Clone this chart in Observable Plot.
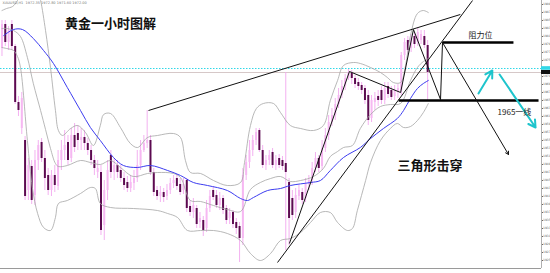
<!DOCTYPE html>
<html><head><meta charset="utf-8">
<script src="https://cdn.jsdelivr.net/npm/d3@7"></script>
<script src="https://cdn.jsdelivr.net/npm/@observablehq/plot@0.6"></script>
<style>html,body{margin:0;padding:0;background:#fff;overflow:hidden}</style>
</head><body><div id="chart"></div>
<script>
// ---- candles (hourly XAUUSD, price units) ----
const candleOpen = [1978,1984,1979.5,1984,1978.5,1964.5,1958,1955,1942.5,1948.5,1941.25,1950,1954.5,1950.5,1946.25,1942.5,1946.25,1943.5,1950,1952.5,
1954.5,1950.5,1956.25,1956.75,1955,1955.75,1954.25,1952.5,1950,1947,1947,1933.75,1942.5,1951.25,1947,1948.75,1947.5,1945.5,1944.5,1943,
1944.25,1945.5,1948.75,1952.5,1954.25,1955,1947,1942.5,1941,1942,1941,1942.5,1944.25,1945.5,1944,1942.5,1945,1938.5,1937,1938,
1934.5,1935,1933,1938,1942.5,1941.25,1938.75,1940.5,1938,1935.5,1937,1934.5,1933.5,1930.5,1946.25,1949.5,1952.5,1955,1957.5,1952.5,
1948.75,1950,1952,1948.75,1950.5,1950,1949.25,1944.5,1940.5,1937,1941,1942,1940.5,1944,1945,1948,1950.5,1948.5,1953,1956.25,
1959.5,1961.25,1964,1966.25,1968.5,1970.5,1971.75,1970.5,1969.5,1968.75,1968,1966.25,1960.5,1964.5,1966,1967.5,1965,1968.5,1967.5,1966,
1967,1967.5,1976.25,1980,1978,1981,1979.5,1980,1981,1978.75];
const candleClose = [1984,1979.5,1982.5,1978.5,1964.5,1962.5,1965.5,1941,1948.75,1940,1950,1953.75,1950.5,1945.5,1942.5,1946.25,1943.75,1950,1952.5,1953.75,
1950,1956.25,1953.25,1955,1955.75,1954.25,1952.5,1950,1948,1948,1932.5,1942.5,1947.5,1947,1948.75,1947,1945.5,1943.75,1943,1944.5,
1945.5,1948.75,1952.5,1954.25,1955,1947,1942,1941,1942,1940.75,1942.5,1944.25,1945,1943.5,1942,1944,1938,1937,1938.75,1934,
1935.5,1932.5,1938,1941,1940.75,1938.75,1940.5,1937.5,1935,1937,1934,1933,1930.5,1946.25,1949.5,1952.5,1955,1957,1952.5,1948.75,
1950,1951.25,1948.75,1950,1948.75,1948.5,1947,1935.5,1936.25,1941.25,1942.5,1940,1944,1945,1948,1950.5,1948,1953,1956.25,1959.5,
1961.25,1964,1966.25,1968.5,1970.5,1972,1970.5,1969,1968.5,1967.5,1965,1960,1965,1965.5,1965,1965,1968,1966.5,1965.75,1967.5,
1968,1976.25,1979.5,1977.5,1980.5,1979,1982,1981.5,1978.75,1972];
const candleHigh = [1985,1985,1983.5,1985,1979,1966,1967,1956,1950.5,1950,1952.5,1955,1955.5,1952.5,1948,1947.5,1948.75,1952.5,1955,1957.5,
1956.25,1958,1959.25,1958.75,1958,1957.5,1955.5,1953.75,1951.25,1950,1948.75,1945,1950,1952.5,1950.5,1950,1948.75,1947,1946,1946.25,
1947.5,1952.5,1955,1956.25,1962.5,1956.25,1948,1943.5,1943.5,1943,1944,1945.5,1946.25,1946.5,1945.5,1945.5,1945.5,1940,1940.5,1938.75,
1937,1936,1940,1942.5,1943.5,1942.5,1942,1941.25,1938.75,1938,1937.5,1935.5,1934.5,1948,1951.25,1955,1956.25,1958,1958,1953.75,
1951.25,1952.5,1953,1951.25,1951.5,1951,1972,1945.5,1942.5,1943,1943.75,1943,1945.5,1946.25,1949.5,1952,1951.25,1955,1958,1961.25,
1963,1965.5,1968,1970,1971.5,1972.75,1972.5,1971.25,1970.5,1969.5,1968.75,1967.5,1966.25,1967,1967.5,1968.5,1969.5,1969.5,1968.5,1968.75,
1969,1977,1980.5,1981,1981.5,1982,1983,1982.5,1982.5,1980];
const candleLow = [1976,1978.5,1977.5,1977.5,1964,1961,1956.5,1940,1940,1939,1938.75,1947.5,1949.5,1942.5,1941.25,1941,1942,1942.5,1947.5,1950,
1948.75,1949.5,1952,1952.5,1952.5,1952.5,1951.25,1948.75,1946.25,1945.5,1931.25,1930,1940,1945.5,1945,1945.5,1944.5,1942.5,1942,1942,
1942.5,1944.5,1947.5,1952,1953,1946.25,1941,1940,1939.5,1939.5,1940,1941.5,1943,1942.5,1941.25,1941.5,1937,1936,1935.5,1933,
1933,1931,1932,1937,1940,1938,1937.5,1936.5,1934,1934,1933,1931.5,1924.5,1928.75,1945,1948,1951,1953.75,1952,1948,
1947.5,1948.75,1948,1947.5,1948,1947.5,1927.5,1928.75,1935,1935.5,1940,1939,1939.5,1942.5,1943.75,1947,1947,1947.5,1952,1955,
1958.5,1960,1963,1965.5,1967.5,1970,1969,1968,1967.5,1966.5,1964,1958.75,1959.5,1962.5,1963.5,1964,1964,1965.5,1965,1965,
1965.5,1966.25,1975,1976.5,1977,1978,1978.5,1979,1978,1965];

// ---- Bollinger bands ----
const upperX = [0,1.4,3.2,4.7,6.2,8.0,9.5,10.8,11.7,13.2,14.7,16.2,17.1,18.3,20.8,22.9,25.3,27.7,29.8,30.8,32.9,35.9,38.9,41.1,44.1,47.1,52.0,54.1,55.6,57.1,60.2,64.1,68.3,72.3,73.5,75.3,77.1,79.2,82.3,84.4,87.4,90.5,94.4,97.4,99.5,101.7,103.5,106.5,108.6,111.7,114.7,116.8,118.6,120.8,122.3,123.8,125.9,127.7,129.2];
const upperY = [1987.5,1988,1988.5,1990,1993.75,1996.25,1995,1992.5,1990,1982.5,1973.25,1962.5,1957.5,1956.25,1958,1958.75,1957,1953.75,1958.75,1961.5,1961.75,1958.25,1954.25,1953.25,1955.75,1956.25,1956.75,1955.75,1950,1947,1946.75,1945,1943.75,1944.5,1949.5,1958.75,1963,1964.25,1964.25,1962,1958.75,1958,1957.5,1958.75,1965,1970,1973.75,1974.5,1974.25,1973.25,1972,1970.75,1969.5,1969.5,1973.75,1981.25,1986.75,1987.5,1987];
const middleX = [0,1.4,3.5,5.6,7.7,9.5,11.7,13.2,14.7,16.2,17.1,19.8,23.8,26.8,29.8,32.9,35.9,39.8,44.1,47.1,52.0,54.1,57.1,60.2,64.1,68.3,72.3,75.3,78.3,81.4,84.4,87.4,90.5,94.4,97.4,99.5,101.7,103.5,106.2,108.6,111.7,114.7,117.7,120.8,123.8,125.9,127.7,129.2];
const middleY = [1983,1983,1982.5,1981,1975.75,1969.25,1962.5,1957.75,1953,1949.25,1948.5,1948.75,1950,1949.5,1949,1950,1948.25,1946,1946.75,1947,1946.75,1945.75,1940,1939.75,1938.75,1937.75,1937.25,1942.75,1944.5,1945.5,1946,1944.75,1945,1946,1948,1951,1952.25,1953.25,1953.75,1958,1961.5,1963.5,1964,1964.25,1970,1973.25,1974.75,1975.5];
const lowerX = [0,1.4,3.5,4.7,5.6,7.7,9.2,10.8,12.6,14.7,16.2,17.1,19.8,23.8,26.8,28.3,29.8,32.9,39.8,47.1,50.2,53.2,56.2,60.2,64.1,68.3,72.3,75.3,78.3,81.4,84.4,87.4,90.5,93.5,96.5,99.5,101.7,104.7,106.2,107.7,110.2,111.7,114.7,117.7,119.8,121.7,123.8,125.9,127.7,129.2];
const lowerY = [1978.25,1978,1977.5,1976,1973.25,1955,1943.25,1936.75,1933.25,1932.5,1935.75,1939.25,1940,1941.75,1943.25,1943,1939.25,1938.25,1938,1937.5,1936.75,1935.75,1932.5,1932.5,1932.5,1931.75,1930,1926.75,1925,1926.75,1930,1930.5,1932,1934.5,1937,1937,1934.5,1932.5,1933,1937.5,1945,1949.5,1955,1958,1959.25,1958.25,1958.5,1960,1962,1964.25];
// ---- moving average (blue) ----
const maX = [0.5,3.5,6.2,9.5,12.6,15.6,19.8,23.8,26.8,29.8,33.8,36.8,41,45,50.2,54.1,58,62.3,68.3,72.3,74.4,76.2,80.5,84.4,87.4,93.5,96.5,99.5,103.5,108.6,111.7,115.6,119.8,121.7,123.8,125.9,127.7,129.2];
const maY = [1981.25,1982.75,1982.75,1980.5,1977.5,1974.25,1968.25,1962.5,1958.25,1955,1950.75,1948.75,1948.25,1948.75,1947.5,1946.25,1944.5,1943.75,1942.5,1940.5,1940,1940.75,1942.5,1943,1943.75,1944.5,1945,1947.5,1950.75,1953.25,1955.5,1958,1960.5,1962.5,1965.5,1968,1969.25,1970];

// ---- levels & annotations ----
const bidPrice = 1972, askPrice = 1973;
const yTicks = d3.range(1925, 1990, 2);
const segX1 = [44.4, 83.5, 87.1, 105.3, 120.8, 124.7, 132.9];
const segY1 = [1962.5, 1924.5, 1929.25, 1972.25, 1967, 1982.75, 1965.25];
const segX2 = [138.9, 142.6, 105.3, 120.8, 124.7, 132.9, 133.5];
const segY2 = [1986.5, 1990, 1972.25, 1967, 1982.75, 1965.25, 1979.5];
const levelX1 = [133.5, 120.2], levelX2 = [155.0, 162.6], levelY = [1979.5, 1965];
const blackArrow = {x1: 133.5, y1: 1979.5, x2: 153.5, y2: 1951.5};
const cyanX1 = [144.4, 150.8], cyanY1 = [1966.75, 1971.5], cyanX2 = [148.6, 161.7], cyanY2 = [1972.5, 1958.25];
const labels = ["阻力位", "1965一线"], labelX = [145, 155.3], labelY = [1981.25, 1962.1];
const bigLabels = ["黄金一小时图解", "三角形击穿"], bigX = [32.9, 129.7], bigY = [1984.25, 1948.75];
const header = "XAUUSD,H1  1972.35 1972.80 1971.60 1972.00";

const candles = candleOpen.map((o, i) => ({i, open: o, close: candleClose[i], high: candleHigh[i], low: candleLow[i]}));
const bull = candles.filter(d => d.close >= d.open), bear = candles.filter(d => d.close < d.open);
const pts = (xs, ys) => xs.map((x, k) => ({x, y: ys[k]}));
const segs = segX1.map((x, k) => ({x1: x, y1: segY1[k], x2: segX2[k], y2: segY2[k]}));
const levels = levelY.map((y, k) => ({x1: levelX1[k], x2: levelX2[k], y}));
const cyans = cyanX1.map((x, k) => ({x1: x, y1: cyanY1[k], x2: cyanX2[k], y2: cyanY2[k]}));
const cjk = "Noto Sans CJK SC, sans-serif";

const chart = Plot.plot({
  width: 550, height: 273, marginTop: 0, marginRight: 9, marginBottom: 5, marginLeft: 0,
  style: {background: "#fff", fontFamily: "DejaVu Sans, sans-serif", fontSize: "3px", color: "#666"},
  x: {domain: [-0.45, 163.5], axis: null},
  y: {domain: [1923, 1990], axis: "right", ticks: yTicks, tickFormat: d => String(d), tickSize: 1, tickPadding: 0.5, label: null},
  marks: [
    Plot.ruleY([bidPrice], {stroke: "#d6c8c8", strokeWidth: 1}),
    Plot.ruleY([askPrice], {stroke: "#30d8e8", strokeWidth: 1, strokeDasharray: "1.5,1.5"}),
    Plot.ruleX(candles, {x: "i", y1: "low", y2: "high", stroke: "#f2a8ee", strokeWidth: 0.9}),
    Plot.ruleX(bull, {x: "i", y1: "open", y2: "close", stroke: "#f6b8f2", strokeWidth: 2}),
    Plot.ruleX(bear, {x: "i", y1: "open", y2: "close", stroke: "#5c0a50", strokeWidth: 2}),
    Plot.line(pts(upperX, upperY), {x: "x", y: "y", stroke: "#a6a6a6", strokeWidth: 0.8, curve: "catmull-rom", clip: true}),
    Plot.line(pts(middleX, middleY), {x: "x", y: "y", stroke: "#a6a6a6", strokeWidth: 0.8, curve: "catmull-rom", clip: true}),
    Plot.line(pts(lowerX, lowerY), {x: "x", y: "y", stroke: "#a6a6a6", strokeWidth: 0.8, curve: "catmull-rom", clip: true}),
    Plot.line(pts(maX, maY), {x: "x", y: "y", stroke: "#3c3cf0", strokeWidth: 1, curve: "catmull-rom"}),
    Plot.ruleY([1923], {stroke: "#9a9a9a"}),
    Plot.ruleX([163.5], {stroke: "#b0b0b0"}),
    Plot.link(segs, {x1: "x1", y1: "y1", x2: "x2", y2: "y2", stroke: "#111", strokeWidth: 1}),
    Plot.link(levels, {x1: "x1", x2: "x2", y1: "y", y2: "y", stroke: "#000", strokeWidth: 2.6}),
    Plot.arrow([blackArrow], {x1: "x1", y1: "y1", x2: "x2", y2: "y2", stroke: "#111", strokeWidth: 1, headLength: 5}),
    Plot.arrow(cyans, {x1: "x1", y1: "y1", x2: "x2", y2: "y2", stroke: "#1ec4cc", strokeWidth: 2, headLength: 6}),
    Plot.rect([askPrice], {x1: 163.5, x2: 166.6, y1: d => d - 0.45, y2: d => d + 0.45, fill: "#30d8e8"}),
    Plot.rect([bidPrice], {x1: 163.5, x2: 166.6, y1: d => d - 0.5, y2: d => d + 0.5, fill: "#111"}),
    Plot.text(labels, {x: (d, k) => labelX[k], y: (d, k) => labelY[k], text: d => d, fontSize: 8, fill: "#222", fontFamily: cjk}),
    Plot.text(bigLabels, {x: (d, k) => bigX[k], y: (d, k) => bigY[k], text: d => d, fontSize: 13, fontWeight: 600, fill: "#111", fontFamily: cjk}),
    Plot.text([header], {frameAnchor: "top-left", dx: 2, dy: 1, lineAnchor: "top", textAnchor: "start", fontSize: 3.5, fill: "#777"})
  ]
});
document.getElementById("chart").appendChild(chart);
</script>
</body></html>
